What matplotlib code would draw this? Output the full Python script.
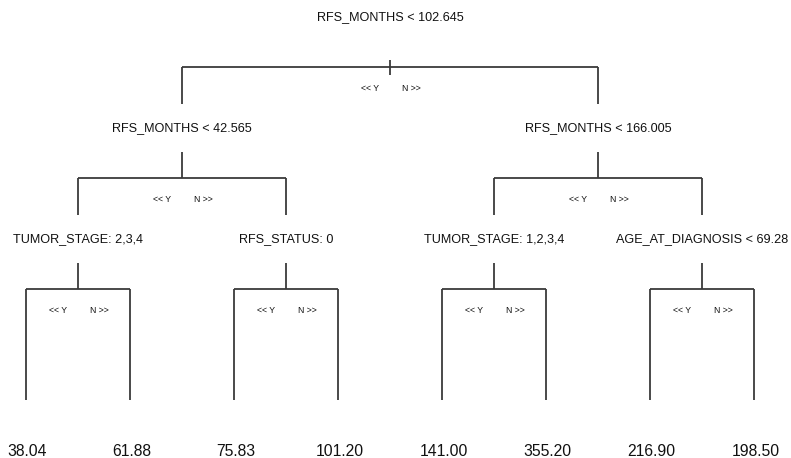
import matplotlib
matplotlib.use("Agg")
import matplotlib.pyplot as plt

# Regression tree: split rules (heap order) and predicted leaf means
split_labels = [
    "RFS_MONTHS < 102.645",
    "RFS_MONTHS < 42.565",
    "RFS_MONTHS < 166.005",
    "TUMOR_STAGE: 2,3,4",
    "RFS_STATUS: 0",
    "TUMOR_STAGE: 1,2,3,4",
    "AGE_AT_DIAGNOSIS < 69.28",
]
leaf_values = [38.04, 61.88, 75.83, 101.20, 141.00, 355.20, 216.90, 198.50]
branch_left = "<< Y"
branch_right = "N >>"

DEPTH = 3
W, H, DPI = 791, 458, 100
PX_X = 104.0   # pixels per leaf slot
PX_Y = 111.0   # pixels per tree level
X0, Y0 = 26.0, 67.0  # pixel position of first leaf column / root level

fig = plt.figure(figsize=(W / DPI, H / DPI), dpi=DPI)
ax = fig.add_axes([0, 0, 1, 1])
ax.set_xlim(-X0 / PX_X, (W - X0) / PX_X)
ax.set_ylim((H - Y0) / PX_Y, -Y0 / PX_Y)
ax.axis("off")

def px_x(p):
    return p / PX_X

def px_y(p):
    return p / PX_Y

# Node layout: leaves evenly spaced, parents centred over children
n_leaves = 2 ** DEPTH
pos = {}
for i in range(n_leaves):
    pos[(DEPTH, i)] = (float(i), float(DEPTH))
for d in range(DEPTH - 1, -1, -1):
    for i in range(2 ** d):
        xl = pos[(d + 1, 2 * i)][0]
        xr = pos[(d + 1, 2 * i + 1)][0]
        pos[(d, i)] = ((xl + xr) / 2, float(d))

line_kw = dict(color="#3a3a3a", lw=1.3, solid_capstyle="butt")
label_off = px_y(50)
gap = px_y(24)
font = "Liberation Sans"
txt_color = "#111111"

k = 0
for d in range(DEPTH):
    for i in range(2 ** d):
        x, y = pos[(d, i)]
        # split rule above the node
        ax.text(x, y - label_off, split_labels[k], ha="center", va="center",
                fontsize=9.1, family=font, color=txt_color)
        k += 1
        if d == 0:
            ax.plot([x, x], [y - px_y(7), y + px_y(8)], **line_kw)
        else:
            ax.plot([x, x], [y - label_off + gap, y], **line_kw)
        xl = pos[(d + 1, 2 * i)][0]
        xr = pos[(d + 1, 2 * i + 1)][0]
        ax.plot([xl, xr], [y, y], **line_kw)
        # children verticals
        if d + 1 < DEPTH:
            yc = y + 1 - label_off - gap
        else:
            yc = y + 1
        ax.plot([xl, xl], [y, yc], **line_kw)
        ax.plot([xr, xr], [y, yc], **line_kw)
        ax.text(x - px_x(20), y + px_y(21.5), branch_left, ha="center", va="center",
                fontsize=6.3, family=font, color=txt_color)
        ax.text(x + px_x(21), y + px_y(21.5), branch_right, ha="center", va="center",
                fontsize=6.3, family=font, color=txt_color)

for i, v in enumerate(leaf_values):
    x, y = pos[(DEPTH, i)]
    ax.text(x + px_x(1.5), y + px_y(51.5), f"{v:.2f}", ha="center", va="center",
            fontsize=11.3, family=font, color=txt_color)

fig.savefig("out.png", dpi=DPI, facecolor="white")
